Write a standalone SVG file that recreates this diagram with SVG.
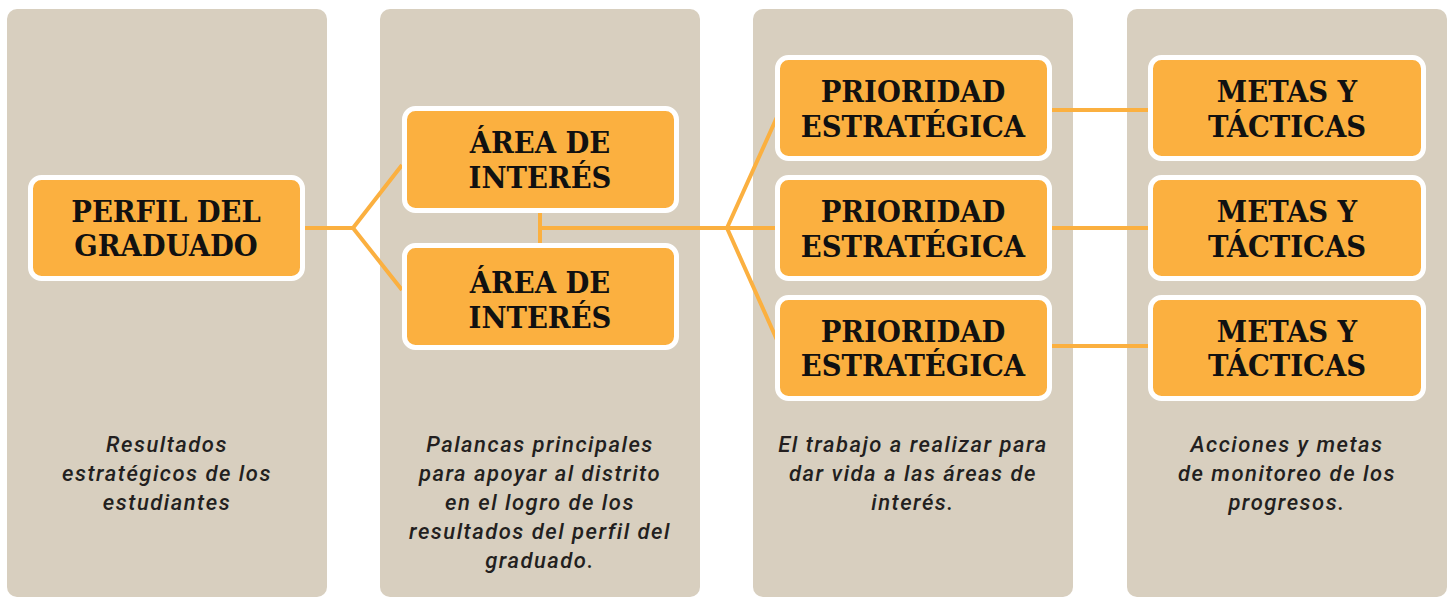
<svg xmlns="http://www.w3.org/2000/svg" width="1450" height="598" viewBox="0 0 1450 598">
<style>
.panel{fill:#D8CFBF}
.node rect{fill:#FBB040;stroke:#FFFFFF;stroke-width:5}
.node text{font-family:"DejaVu Serif Condensed","DejaVu Serif","Liberation Serif",serif;font-weight:bold;font-size:30.5px;fill:#111111;text-anchor:middle}
.desc{font-family:Roboto,"Liberation Sans",sans-serif;font-style:italic;font-weight:500;font-size:22px;letter-spacing:1.5px;fill:#231F20;text-anchor:middle}
.conn{stroke:#FBB040;stroke-width:4;fill:none}
</style>
<rect width="1450" height="598" fill="#FFFFFF"/>
<g id="panels">
<rect class="panel" x="7" y="9" width="320" height="588" rx="10"/>
<rect class="panel" x="380" y="9" width="320" height="588" rx="10"/>
<rect class="panel" x="753" y="9" width="320" height="588" rx="10"/>
<rect class="panel" x="1127" y="9" width="320" height="588" rx="10"/>
</g>
<g id="connectors">
<polyline class="conn" points="303,228 353,228"/>
<polyline class="conn" points="402,165 353,228 402,290"/>
<line class="conn" x1="540" y1="211" x2="540" y2="245"/>
<line class="conn" x1="540" y1="228" x2="777" y2="228"/>
<polyline class="conn" points="777,117 727,228 777,340"/>
<line class="conn" x1="1050" y1="110" x2="1150" y2="110"/>
<line class="conn" x1="1050" y1="228" x2="1150" y2="228"/>
<line class="conn" x1="1050" y1="346" x2="1150" y2="346"/>
</g>
<g id="perfil" class="node">
<rect x="30.5" y="177.5" width="272" height="101" rx="11"/>
<text x="166" y="222">PERFIL DEL</text>
<text x="166" y="256">GRADUADO</text>
</g>
<g id="area1" class="node">
<rect x="404.5" y="108.5" width="272" height="102" rx="11"/>
<text x="540" y="153">ÁREA DE</text>
<text x="540" y="188">INTERÉS</text>
</g>
<g id="area2" class="node">
<rect x="404.5" y="245.5" width="272" height="102" rx="11"/>
<text x="540" y="293">ÁREA DE</text>
<text x="540" y="328">INTERÉS</text>
</g>
<g id="prioridad1" class="node">
<rect x="777.5" y="57.5" width="272" height="101" rx="11"/>
<text x="913" y="102">PRIORIDAD</text>
<text x="913" y="137">ESTRATÉGICA</text>
</g>
<g id="prioridad2" class="node">
<rect x="777.5" y="177.5" width="272" height="101" rx="11"/>
<text x="913" y="222">PRIORIDAD</text>
<text x="913" y="257">ESTRATÉGICA</text>
</g>
<g id="prioridad3" class="node">
<rect x="777.5" y="297.5" width="272" height="101" rx="11"/>
<text x="913" y="342">PRIORIDAD</text>
<text x="913" y="376">ESTRATÉGICA</text>
</g>
<g id="metas1" class="node">
<rect x="1150.5" y="57.5" width="273" height="101" rx="11"/>
<text x="1287" y="102">METAS Y</text>
<text x="1287" y="137">TÁCTICAS</text>
</g>
<g id="metas2" class="node">
<rect x="1150.5" y="177.5" width="273" height="101" rx="11"/>
<text x="1287" y="222">METAS Y</text>
<text x="1287" y="257">TÁCTICAS</text>
</g>
<g id="metas3" class="node">
<rect x="1150.5" y="297.5" width="273" height="101" rx="11"/>
<text x="1287" y="342">METAS Y</text>
<text x="1287" y="376">TÁCTICAS</text>
</g>
<g id="descriptions">
<text class="desc" x="167"><tspan x="167" y="452">Resultados</tspan><tspan x="167" y="481">estratégicos de los</tspan><tspan x="167" y="510">estudiantes</tspan></text>
<text class="desc" x="540"><tspan x="540" y="452">Palancas principales</tspan><tspan x="540" y="481">para apoyar al distrito</tspan><tspan x="540" y="510">en el logro de los</tspan><tspan x="540" y="539">resultados del perfil del</tspan><tspan x="540" y="568">graduado.</tspan></text>
<text class="desc" x="913"><tspan x="913" y="452">El trabajo a realizar para</tspan><tspan x="913" y="481">dar vida a las áreas de</tspan><tspan x="913" y="510">interés.</tspan></text>
<text class="desc" x="1287"><tspan x="1287" y="452">Acciones y metas</tspan><tspan x="1287" y="481">de monitoreo de los</tspan><tspan x="1287" y="510">progresos.</tspan></text>
</g>
</svg>
